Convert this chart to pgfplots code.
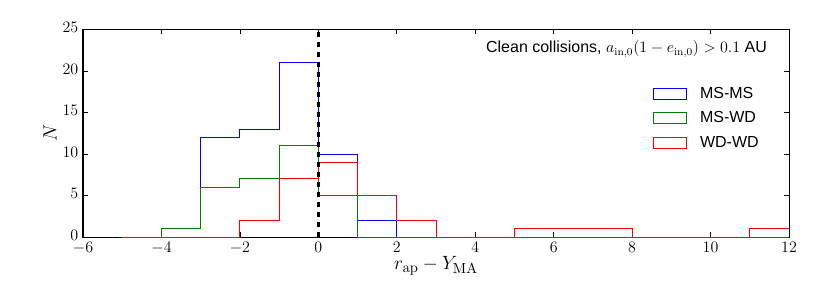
\documentclass[border=0pt]{standalone}
\usepackage[no-math]{fontspec}
\setmainfont{Liberation Sans}
\usepackage{pgfplots}
\pgfplotsset{compat=1.18}
\usetikzlibrary{calc}
\begin{document}
\begin{tikzpicture}
\begin{axis}[
  width=529.5pt, height=155.625pt, scale only axis,
  xmin=-6, xmax=12, ymin=0, ymax=25,
  xtick={-6,-4,...,12}, ytick={0,5,...,25},
  tick align=inside, major tick length=3.5pt,
  axis line style={line width=0.75pt, black},
  tick style={line width=0.5pt, black},
  every tick label/.append style={font=\fontsize{12}{14}\selectfont},
  yticklabel style={yshift=1.5pt},
  xlabel={$r_{\mathrm{ap}}-Y_{\mathrm{MA}}$}, ylabel={$N$},
  every axis x label/.style={at={(rel axis cs:0.5,-0.14)}, anchor=center, font=\fontsize{15}{18}\selectfont},
  every axis y label/.style={at={(rel axis cs:-0.0467,0.5)}, anchor=center, rotate=90, font=\fontsize{15}{18}\selectfont},
  legend image code/.code={\draw[#1, line width=0.75pt] (0pt,-4.1pt) rectangle (24.75pt,4.1pt);},
  legend cell align=left,
  legend style={draw=none, fill=none, at={(rel axis cs:0.807,0.724)}, anchor=north west,
    inner sep=0pt, row sep=8.5pt, column sep=9.75pt, nodes={inner sep=0pt},
    font=\fontsize{12}{14}\selectfont},
]
\addplot[blue, line width=0.75pt, const plot mark left] coordinates {(-5,0)(-4,1)(-3,12)(-2,13)(-1,21)(0,10)(1,2)(2,0)(12,0)};
\addlegendentry{MS-MS}
\addplot[green!50!black, line width=0.75pt, const plot mark left] coordinates {(-5,0)(-4,1)(-3,6)(-2,7)(-1,11)(0,5)(1,0)(12,0)};
\addlegendentry{MS-WD}
\addplot[red, line width=0.75pt, const plot mark left] coordinates {(-5,0)(-2,2)(-1,7)(0,9)(1,5)(2,2)(3,0)(5,1)(8,0)(11,1)(12,1)(12,0)};
\addlegendentry{WD-WD}
\addplot[black, line width=2pt, dash pattern=on 4.1pt off 3.4pt, forget plot] coordinates {(0,0)(0,25)};
\node[anchor=base east, inner sep=0pt, font=\fontsize{12}{14}\selectfont] at (rel axis cs:0.969,0.888) {Clean collisions, $a_{\mathrm{in},0}(1-e_{\mathrm{in},0})>0.1$ AU};
\coordinate (ll) at (rel axis cs:0,0);
\coordinate (ur) at (rel axis cs:1,1);
\end{axis}
\pgfresetboundingbox
\path[use as bounding box] ($(ll)+(-62.25pt,-45pt)$) rectangle ($(ur)+(30.75pt,22.125pt)$);
\end{tikzpicture}
\end{document}
